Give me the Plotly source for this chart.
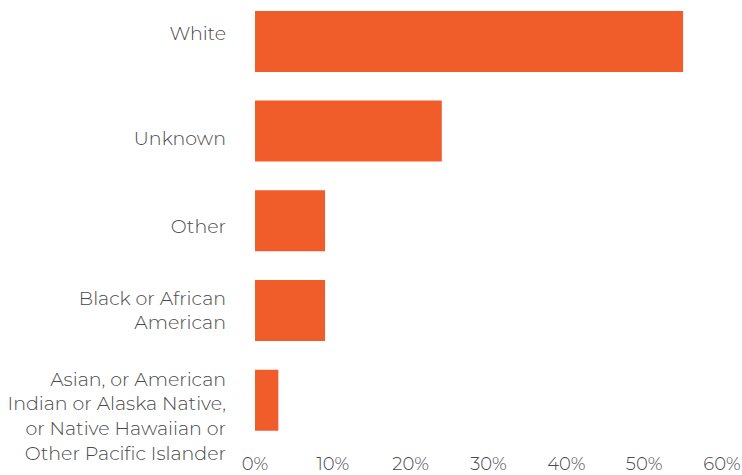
import plotly.graph_objects as go

categories = [
    "White",
    "Unknown",
    "Other",
    "Black or African<br>American",
    "Asian, or American<br>Indian or Alaska Native,<br>or Native Hawaiian or<br>Other Pacific Islander",
]
shares = [55, 24, 9, 9, 3]
x_ticks = [0, 10, 20, 30, 40, 50, 60]
x_tick_labels = ["0%", "10%", "20%", "30%", "40%", "50%", "60%"]

# small vertical nudges of the category labels (in category units), as in the original layout
label_nudge = [-0.095, 0.078, 0.067, 0.0, 0.178]

positions = list(range(len(categories)))

fig = go.Figure(go.Bar(
    x=shares,
    y=positions,
    orientation="h",
    marker=dict(color="#F15D2A", line=dict(width=0)),
    width=0.68,
    hoverinfo="skip",
))

font_family = "Montserrat, Lato, 'Open Sans', sans-serif"
fig.update_layout(
    width=742, height=475,
    margin=dict(l=255, r=20, t=0, b=30),
    paper_bgcolor="white", plot_bgcolor="white",
    showlegend=False,
    font=dict(family=font_family, size=19, color="#4a4a4a", weight=300),
    xaxis=dict(
        range=[0, 60], tickvals=x_ticks, ticktext=x_tick_labels,
        showgrid=False, zeroline=False, showline=False, ticks="",
        ticklabelstandoff=6, fixedrange=True,
        tickfont=dict(size=18),
    ),
    yaxis=dict(
        range=[4.5, -0.462],
        tickvals=[p + n for p, n in zip(positions, label_nudge)],
        ticktext=categories,
        showgrid=False, zeroline=False, showline=False, ticks="",
        ticklabelstandoff=28, fixedrange=True,
    ),
)

fig.write_html(
    "out.html",
    config={"displayModeBar": False},
    post_script="document.body.style.margin='0';document.body.style.overflow='hidden';",
)
